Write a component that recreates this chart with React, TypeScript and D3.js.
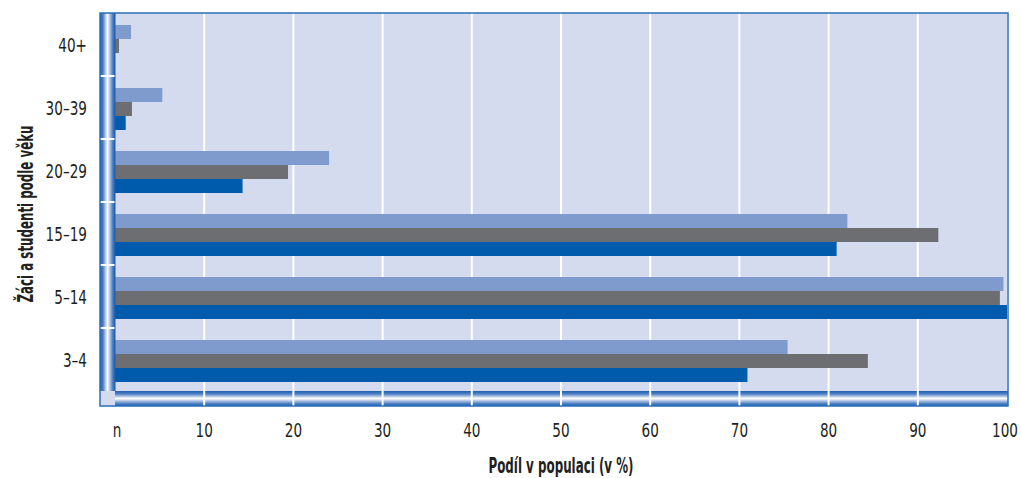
import React from "react";
import * as d3 from "d3";

const categories = ["40+", "30–39", "20–29", "15–19", "5–14", "3–4"];
const seriesKeys = ["s1", "s2", "s3"];
const seriesLight = [1.8, 5.3, 24.0, 82.1, 99.6, 75.4];
const seriesGrey = [0.45, 1.9, 19.4, 92.3, 99.2, 84.4];
const seriesBlue = [0, 1.2, 14.3, 80.9, 100, 70.9];
const xTicks = [0, 10, 20, 30, 40, 50, 60, 70, 80, 90, 100];
const xTickLabels = ["n", "10", "20", "30", "40", "50", "60", "70", "80", "90", "100"];
const seriesColors = ["#7f9acc", "#6d6e71", "#005bac"];

const W = 1021;
const H = 478;
const FONT = "'DejaVu Sans', sans-serif";
const SX = 0.68;

function CText(props: {
  x: number;
  y: number;
  anchor?: string;
  size: number;
  baseline?: string;
  children: React.ReactNode;
}) {
  const { x, y, anchor = "middle", size, baseline, children } = props;
  return (
    <g transform={`translate(${x},${y}) scale(${SX},1)`}>
      <text
        x={0}
        y={0}
        textAnchor={anchor}
        dominantBaseline={baseline}
        fontFamily={FONT}
        fontSize={size}
        fill="#231f20"
      >
        {children}
      </text>
    </g>
  );
}

export default function App() {
  const left = 115;
  const right = 1007;
  const top = 13;
  const bottom = 391;
  const pipe = 15;

  const x = d3.scaleLinear().domain([0, 100]).range([left, right]);
  const y = d3.scaleBand<string>().domain(categories).range([top, bottom]).padding(0);
  const inner = d3.scaleBand<string>().domain(seriesKeys).range([12, 54]).padding(0);
  const seriesValues = [seriesLight, seriesGrey, seriesBlue];

  const boundaries = categories.slice(1).map((c) => y(c) as number);

  return (
    <svg width={W} height={H} style={{ display: "block", position: "absolute", left: 0, top: 0 }}>
      <defs>
        <linearGradient id="pipeV" x1="0" x2="1" y1="0" y2="0">
          <stop offset="0" stopColor="#1f5fb0" />
          <stop offset="0.2" stopColor="#4f80c4" />
          <stop offset="0.4" stopColor="#c9d6ee" />
          <stop offset="0.5" stopColor="#ffffff" />
          <stop offset="0.65" stopColor="#b4c6e6" />
          <stop offset="0.85" stopColor="#4a7cc2" />
          <stop offset="1" stopColor="#1f5fb0" />
        </linearGradient>
        <linearGradient id="pipeH" x1="0" x2="0" y1="0" y2="1">
          <stop offset="0" stopColor="#1f5fb0" />
          <stop offset="0.2" stopColor="#4f80c4" />
          <stop offset="0.4" stopColor="#c9d6ee" />
          <stop offset="0.5" stopColor="#ffffff" />
          <stop offset="0.65" stopColor="#b4c6e6" />
          <stop offset="0.85" stopColor="#4a7cc2" />
          <stop offset="1" stopColor="#1f5fb0" />
        </linearGradient>
      </defs>

      {/* plot background */}
      <rect x={left - pipe} y={top} width={right - left + pipe} height={bottom - top + pipe} fill="#d4dbee" />

      {/* grid lines */}
      {xTicks.slice(1, -1).map((t) => (
        <line key={t} x1={x(t)} x2={x(t)} y1={top} y2={bottom + pipe} stroke="#ffffff" strokeWidth={2} />
      ))}

      {/* bars */}
      {categories.map((c, i) => (
        <g key={c} transform={`translate(0,${y(c)})`}>
          {seriesKeys.map((k, j) => {
            const v = seriesValues[j][i];
            return (
              <rect
                key={k}
                x={x(0)}
                y={inner(k) as number}
                width={Math.max(0, x(v) - x(0))}
                height={inner.bandwidth()}
                fill={seriesColors[j]}
              />
            );
          })}
        </g>
      ))}

      {/* bottom pipe */}
      <rect x={left} y={bottom} width={right - left + 1} height={pipe} fill="url(#pipeH)" />
      {xTicks.slice(1, -1).map((t) => (
        <line key={"p" + t} x1={x(t)} x2={x(t)} y1={bottom} y2={bottom + pipe} stroke="#ffffff" strokeWidth={2} />
      ))}
      {/* left pipe */}
      <rect x={left - pipe} y={top} width={pipe} height={bottom - top} fill="url(#pipeV)" />
      {boundaries.map((b, i) => (
        <line key={"b" + i} x1={left - pipe} x2={left} y1={b} y2={b} stroke="#ffffff" strokeWidth={2} />
      ))}
      {/* corner */}
      <rect x={left - pipe} y={bottom} width={pipe} height={pipe} fill="#d4dbee" />
      <line x1={left} x2={left} y1={top} y2={bottom} stroke="#1f5fb0" strokeWidth={1} />

      {/* frame */}
      <rect
        x={left - pipe}
        y={top}
        width={right - left + pipe + 1}
        height={bottom - top + pipe}
        fill="none"
        stroke="#2a6fb8"
        strokeWidth={1.5}
      />

      {/* y tick labels */}
      {categories.map((c) => (
        <CText key={"l" + c} x={87} y={(y(c) as number) + 33} anchor="end" baseline="middle" size={20}>
          {c}
        </CText>
      ))}

      {/* x tick labels */}
      {xTicks.map((t, i) => (
        <CText key={"x" + t} x={i === 0 ? x(t) + 2 : i === xTicks.length - 1 ? x(t) - 2 : x(t)} y={437} size={20}>
          {xTickLabels[i]}
        </CText>
      ))}

      {/* axis titles */}
      <text
        x={(left + right) / 2}
        y={473}
        textAnchor="middle"
        fontFamily={FONT}
        fontSize={21}
        fontWeight="bold"
        fill="#231f20"
        textLength={145}
        lengthAdjust="spacingAndGlyphs"
      >
        Podíl v populaci (v %)
      </text>
      <text
        transform="translate(33,214) rotate(-90)"
        x={0}
        y={0}
        textAnchor="middle"
        fontFamily={FONT}
        fontSize={21}
        fontWeight="bold"
        fill="#231f20"
        textLength={177}
        lengthAdjust="spacingAndGlyphs"
      >
        Žáci a studenti podle věku
      </text>
    </svg>
  );
}
